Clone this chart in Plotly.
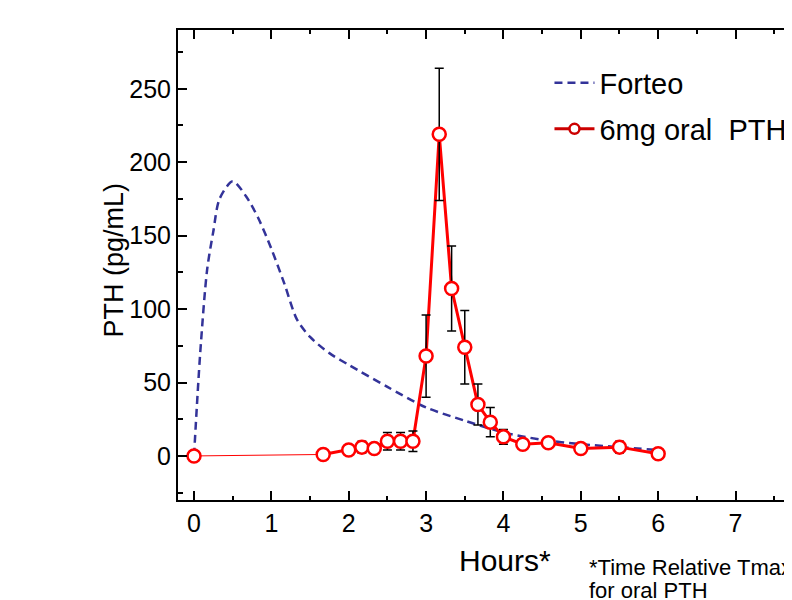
import plotly.graph_objects as go

# Forteo (dashed curve)
forteo_t = [0, 0.08, 0.17, 0.25, 0.33, 0.5, 0.67, 0.83, 1.0, 1.17, 1.33, 1.5, 1.75, 2.0, 2.5, 3.0, 3.5, 4.0, 4.5, 5.0, 5.5, 6.0]
forteo_pth = [0, 70, 127, 153, 175, 187, 177, 162, 141, 117, 93, 81, 70, 62, 47, 33, 24, 16, 11, 8, 6, 4]

# 6mg oral PTH (mean +/- error)
oral_t = [0, 1.67, 2.0, 2.17, 2.33, 2.5, 2.67, 2.83, 3.0, 3.17, 3.33, 3.5, 3.67, 3.83, 4.0, 4.25, 4.58, 5.0, 5.5, 6.0]
oral_pth = [0, 1, 4, 6, 5, 10, 10, 10, 68, 219, 114, 74, 35, 23, 13, 8, 9, 5, 6, 1.5]
oral_err = [1, 1, 2, 4, 3, 6, 6, 7, 28, 45, 29, 25, 14, 10, 5, 3, 2, 3, 4, 2]

FONT = "Arial, Liberation Sans, sans-serif"

fig = go.Figure()

fig.add_trace(go.Scatter(
    x=forteo_t, y=forteo_pth, mode="lines", name="Forteo", legend="legend",
    line=dict(color="#333399", width=2.5, dash="8px,5px", shape="spline", smoothing=0.8),
))

# thin connector from baseline point to first post-dose sample
fig.add_trace(go.Scatter(
    x=oral_t[:2], y=oral_pth[:2], mode="lines", showlegend=False,
    line=dict(color="red", width=1),
))

fig.add_trace(go.Scatter(
    x=oral_t[1:], y=oral_pth[1:], mode="lines", showlegend=False,
    line=dict(color="red", width=3),
))

fig.add_trace(go.Scatter(
    x=oral_t, y=oral_pth, mode="markers", showlegend=False,
    marker=dict(symbol="circle", size=13, color="white", line=dict(color="red", width=2.5)),
    error_y=dict(type="data", array=oral_err, color="black", thickness=1.5, width=4.5),
))

# legend entry only
fig.add_trace(go.Scatter(
    x=[None], y=[None], mode="lines+markers", name="6mg oral  PTH", legend="legend2",
    line=dict(color="#cc0000", width=3),
    marker=dict(symbol="circle", size=10, color="white", line=dict(color="#cc0000", width=2.5)),
))

leg_common = dict(xanchor="left", yanchor="middle", font=dict(size=29),
                  bgcolor="rgba(0,0,0,0)", itemwidth=40)

fig.update_layout(
    width=784, height=592, autosize=False,
    margin=dict(l=170, r=0, t=22, b=100),
    paper_bgcolor="white", plot_bgcolor="white",
    font=dict(family=FONT, size=25, color="black"),
    showlegend=True,
    legend=dict(x=0.605, y=(492 - 75) / 470, **leg_common),
    legend2=dict(x=0.605, y=(492 - 121) / 470, **leg_common),
    annotations=[
        dict(text="Hours*", xref="paper", yref="paper", x=0.5326, y=-0.1277,
             xanchor="center", yanchor="middle", showarrow=False, font=dict(size=30)),
        dict(text="PTH (pg/mL)", xref="paper", yref="paper", x=-0.105, y=0.5106,
             xanchor="center", yanchor="middle", textangle=-90, showarrow=False,
             font=dict(size=27)),
        dict(text="*Time Relative Tmax", xref="paper", yref="paper", x=0.666, y=-0.1426,
             xanchor="left", yanchor="middle", showarrow=False, font=dict(size=22)),
        dict(text="for oral PTH", xref="paper", yref="paper", x=0.666, y=-0.1936,
             xanchor="left", yanchor="middle", showarrow=False, font=dict(size=22)),
    ],
)

fig.update_xaxes(
    range=[-0.207, 7.73], dtick=1, tick0=0, automargin=False,
    showline=True, linecolor="black", linewidth=2, mirror="allticks",
    ticks="inside", ticklen=9, tickwidth=2, tickcolor="black",
    minor=dict(dtick=0.5, tick0=0, ticks="inside", ticklen=4, tickwidth=2, tickcolor="black"),
    showgrid=False, zeroline=False,
)

fig.update_yaxes(
    range=[-30, 290], dtick=50, tick0=0, automargin=False,
    showline=True, linecolor="black", linewidth=2, mirror=False,
    ticks="inside", ticklen=9, tickwidth=2, tickcolor="black",
    minor=dict(dtick=25, tick0=0, ticks="inside", ticklen=5, tickwidth=2, tickcolor="black"),
    showgrid=False, zeroline=False,
)

fig.write_html("out.html", config={"responsive": False})
